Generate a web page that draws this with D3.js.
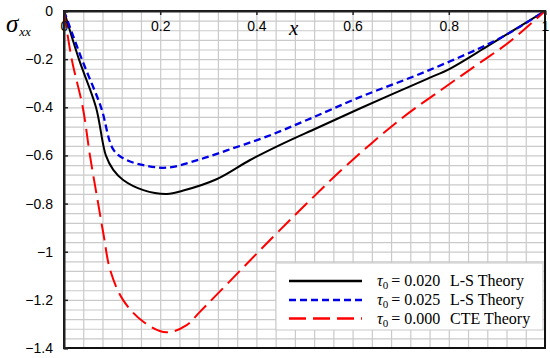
<!DOCTYPE html>
<html>
<head>
<meta charset="utf-8">
<script src="https://cdn.jsdelivr.net/npm/d3@7"></script>
<style>
  body { margin: 0; background: #fff; }
  svg { display: block; }
</style>
</head>
<body>
<div id="canvas"></div>
<script>
// values
const xTicks = [0, 0.2, 0.4, 0.6, 0.8, 1];
const yTicks = [0, -0.2, -0.4, -0.6, -0.8, -1, -1.2, -1.4];

// tau0 = 0.020 L-S
const lsX020 = [0, 0.031, 0.0665, 0.087, 0.1025, 0.123, 0.165, 0.214, 0.248, 0.317, 0.387, 0.456, 0.525, 0.615, 0.754, 0.802, 0.879, 0.941, 1];
const lsY020 = [0, -0.2, -0.4, -0.6, -0.66, -0.702, -0.744, -0.760, -0.746, -0.699, -0.619, -0.550, -0.487, -0.405, -0.283, -0.240, -0.148, -0.072, 0];

// tau0 = 0.025 L-S
const lsX025 = [0, 0.037, 0.077, 0.103, 0.130, 0.165, 0.213, 0.283, 0.352, 0.421, 0.505, 0.615, 0.754, 0.893, 0.948, 1];
const lsY025 = [0, -0.2, -0.4, -0.577, -0.619, -0.640, -0.651, -0.616, -0.570, -0.522, -0.453, -0.358, -0.250, -0.127, -0.065, 0];

// tau0 = 0.000 CTE
const cteX = [0, 0.016, 0.039, 0.054, 0.071, 0.083, 0.096, 0.123, 0.165, 0.213, 0.255, 0.283, 0.435, 0.505, 0.588, 0.702, 0.789, 0.858, 0.927, 1];
const cteY = [0, -0.2, -0.4, -0.601, -0.799, -0.938, -1.076, -1.201, -1.291, -1.335, -1.305, -1.249, -0.938, -0.799, -0.640, -0.446, -0.321, -0.224, -0.127, 0];

const seriesNames = ["0.020", "0.025", "0.000"];
const seriesTheory = ["L-S Theory", "L-S Theory", "CTE Theory"];

const width = 550, height = 358;
const margin = { top: 11, left: 64, right: 5, bottom: 10 };
const iwidth = width - margin.left - margin.right;
const iheight = height - margin.top - margin.bottom;

const sansFont = "'Liberation Sans', Arial, sans-serif";
const serifFont = "'Liberation Serif', 'Times New Roman', serif";

const svg = d3.select("#canvas").append("svg")
  .attr("width", width)
  .attr("height", height);

const g = svg.append("g").attr("transform", `translate(${margin.left},${margin.top})`);

const x = d3.scaleLinear().domain([0, 1]).range([0, iwidth]);
const y = d3.scaleLinear().domain([-1.4, 0]).range([iheight, 0]);

// grid every 0.04
const gridX = d3.range(0, 26).map(i => i * 0.04);
const gridY = d3.range(0, 36).map(i => -i * 0.04);

g.append("g")
  .attr("class", "grid")
  .attr("transform", `translate(0,${iheight})`)
  .call(d3.axisBottom(x).tickValues(gridX).tickSize(-iheight).tickFormat(""))
  .call(s => s.select(".domain").remove())
  .call(s => s.selectAll("line").attr("stroke", "#cacaca").attr("stroke-width", 1.2));

g.append("g")
  .attr("class", "grid")
  .call(d3.axisLeft(y).tickValues(gridY).tickSize(-iwidth).tickFormat(""))
  .call(s => s.select(".domain").remove())
  .call(s => s.selectAll("line").attr("stroke", "#cacaca").attr("stroke-width", 1.2));

// curves
const line = d3.line()
  .x(d => x(d[0]))
  .y(d => y(d[1]))
  .curve(d3.curveCatmullRom.alpha(0.5));

const series = [
  { xs: lsX020, ys: lsY020, color: "#000000", dash: null, w: 2 },
  { xs: lsX025, ys: lsY025, color: "#0000e6", dash: "7,4", w: 2.3 },
  { xs: cteX, ys: cteY, color: "#ff0000", dash: "17,7", w: 2 }
];

series.forEach(s => {
  g.append("path")
    .datum(s.xs.map((v, i) => [v, s.ys[i]]))
    .attr("fill", "none")
    .attr("stroke", s.color)
    .attr("stroke-width", s.w)
    .attr("stroke-dasharray", s.dash)
    .attr("d", line);
});

// frame
g.append("rect")
  .attr("x", 0).attr("y", 0)
  .attr("width", iwidth).attr("height", iheight)
  .attr("fill", "none")
  .attr("stroke", "#111")
  .attr("stroke-width", 2);

// x axis on top, labels inside
g.append("g")
  .attr("class", "x--axis")
  .call(d3.axisBottom(x).tickValues(xTicks).tickSize(4).tickPadding(6).tickFormat(d3.format("")))
  .call(s => s.select(".domain").attr("stroke", "#222").attr("stroke-width", 2))
  .call(s => s.selectAll("line").attr("stroke", "#222").attr("stroke-width", 1.5))
  .call(s => s.selectAll("text").attr("font-family", sansFont).attr("font-size", 14).attr("fill", "#000"));

g.append("g")
  .attr("class", "y--axis")
  .call(d3.axisLeft(y).tickValues(yTicks).tickSize(-4).tickPadding(11).tickFormat(d3.format("")))
  .call(s => s.select(".domain").attr("stroke", "#222").attr("stroke-width", 2))
  .call(s => s.selectAll("line").attr("stroke", "#222").attr("stroke-width", 1.5))
  .call(s => s.selectAll("text").attr("font-family", sansFont).attr("font-size", 14).attr("fill", "#000"));

// axis titles
const ylab = svg.append("text")
  .attr("x", 6).attr("y", 32)
  .attr("font-family", serifFont)
  .attr("font-style", "italic");
ylab.append("tspan").attr("font-size", 25).text("σ");
ylab.append("tspan").attr("font-size", 13).attr("dy", 4).attr("dx", 1).text("xx");

svg.append("text")
  .attr("x", 289).attr("y", 35)
  .attr("font-family", serifFont)
  .attr("font-style", "italic")
  .attr("font-size", 21)
  .text("x");

// legend
const lg = svg.append("g");
lg.append("rect")
  .attr("x", 276).attr("y", 263)
  .attr("width", 267).attr("height", 67)
  .attr("fill", "#fff")
  .attr("stroke", "#c8c8c8")
  .attr("stroke-width", 1);

const legendY = [281, 300, 318.5];
series.forEach((s, i) => {
  lg.append("line")
    .attr("x1", 289).attr("x2", 362)
    .attr("y1", legendY[i]).attr("y2", legendY[i])
    .attr("stroke", s.color)
    .attr("stroke-width", s.w + 0.3)
    .attr("stroke-dasharray", s.dash);
  const t = lg.append("text")
    .attr("x", 377).attr("y", legendY[i] + 5)
    .attr("font-family", serifFont)
    .attr("font-size", 16)
    .attr("fill", "#000");
  t.append("tspan").attr("font-style", "italic").text("τ");
  t.append("tspan").attr("font-size", 11).attr("dy", 3).text("0");
  t.append("tspan").attr("dy", -3).attr("dx", 3).text("= " + seriesNames[i]);
  lg.append("text")
    .attr("x", 450).attr("y", legendY[i] + 5)
    .attr("font-family", serifFont)
    .attr("font-size", 16)
    .attr("fill", "#000")
    .text(seriesTheory[i]);
});
</script>
</body>
</html>
